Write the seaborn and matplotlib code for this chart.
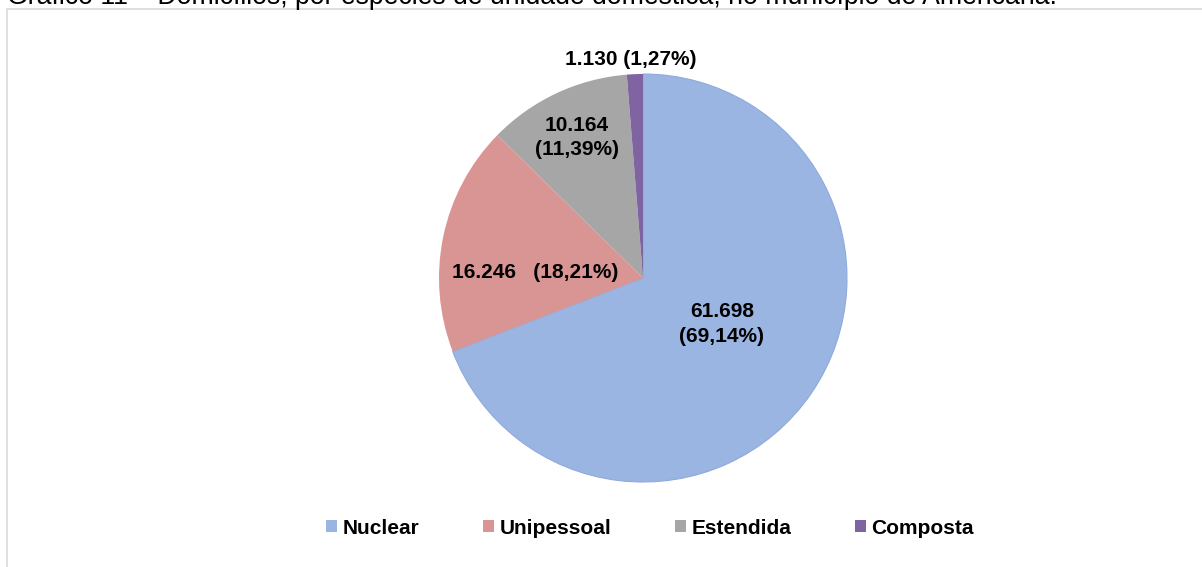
import matplotlib
matplotlib.use("Agg")
import matplotlib.pyplot as plt
from matplotlib.patches import Rectangle, Patch
import seaborn as sns

# Data
categories = ["Nuclear", "Unipessoal", "Estendida", "Composta"]
households = [61698, 16246, 10164, 1130]
shares = ["69,14%", "18,21%", "11,39%", "1,27%"]
colors = ["#9bb5e2", "#d99594", "#a6a6a6", "#8064a2"]
title = "Gráfico 11 – Domicílios, por espécies de unidade doméstica, no município de Americana."

sns.set_theme(style="white")
plt.rcParams["font.family"] = ["Liberation Sans", "DejaVu Sans"]
pal = sns.color_palette(colors)

W, H = 1202, 567
fig = plt.figure(figsize=(W / 100, H / 100), dpi=100)
fig.patch.set_facecolor("white")

# light grey chart border, open to the right / bottom like the cropped source
fig.patches.append(Rectangle((7 / W, -0.05), 1.2, 1 - 8.5 / H + 0.05,
                             transform=fig.transFigure, fill=False,
                             edgecolor="#d9d9d9", lw=1.2))

# title, clipped at the top edge of the image
fig.text(7 / W, 1 - 3.5 / H, title, fontsize=19.2, color="#000000",
         ha="left", va="baseline")

# pie axes: centre (643, 278) px, radius ~204 px
r_px = 204
half = 1.1 * r_px
ax = fig.add_axes([(643 - half) / W, (H - 278 - half) / H, 2 * half / W, 2 * half / H])
wedges, _ = ax.pie(households, colors=pal, startangle=90, counterclock=False,
                   wedgeprops=dict(edgecolor="none"))
wedges[0].set_edgecolor("#8eaadb")
wedges[0].set_linewidth(0.8)
ax.set_xlim(-1.1, 1.1)
ax.set_ylim(-1.1, 1.1)
ax.set_aspect("equal")
ax.axis("off")

# data labels (value + share), Excel style
fmt_vals = [f"{v:,}".replace(",", ".") for v in households]
label_text = [
    f"{fmt_vals[0]}\n({shares[0]})",
    f"{fmt_vals[1]}   ({shares[1]})",
    f"{fmt_vals[2]}\n({shares[2]})",
    f"{fmt_vals[3]} ({shares[3]})",
]
label_pos = [(0.387, -0.225), (-0.53, 0.025), (-0.325, 0.69), (-0.06, 1.07)]
for txt, (x, y) in zip(label_text, label_pos):
    ax.text(x, y, txt, ha="center", va="center", fontsize=15,
            fontweight="bold", color="#000000", linespacing=1.35, clip_on=False)

handles = [Patch(facecolor=c, edgecolor="none") for c in pal]
fig.legend(handles, categories, loc="center", bbox_to_anchor=(650 / W, 1 - 528 / H),
           ncol=4, frameon=False, handlelength=0.55, handleheight=0.55,
           handletextpad=0.25, columnspacing=3.05, labelcolor="#000000",
           prop=dict(family=["Liberation Sans", "DejaVu Sans"], weight="bold", size=15))

fig.savefig("out.png", dpi=100)
